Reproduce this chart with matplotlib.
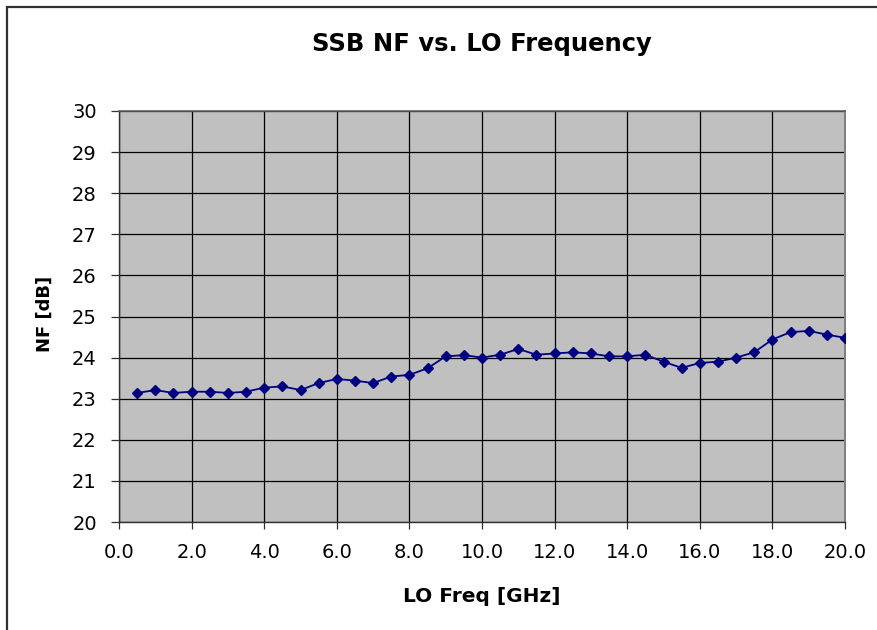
import matplotlib
matplotlib.use("Agg")
import matplotlib.pyplot as plt
from matplotlib.patches import Rectangle

freq_ghz = [0.5, 1.0, 1.5, 2.0, 2.5, 3.0, 3.5, 4.0, 4.5, 5.0,
            5.5, 6.0, 6.5, 7.0, 7.5, 8.0, 8.5, 9.0, 9.5, 10.0,
            10.5, 11.0, 11.5, 12.0, 12.5, 13.0, 13.5, 14.0, 14.5, 15.0,
            15.5, 16.0, 16.5, 17.0, 17.5, 18.0, 18.5, 19.0, 19.5, 20.0]
nf_db = [23.14, 23.21, 23.14, 23.17, 23.17, 23.14, 23.17, 23.27, 23.30, 23.21,
         23.38, 23.48, 23.44, 23.38, 23.54, 23.58, 23.74, 24.03, 24.06, 24.00,
         24.07, 24.21, 24.07, 24.10, 24.13, 24.10, 24.03, 24.03, 24.07, 23.90,
         23.75, 23.87, 23.90, 24.00, 24.13, 24.44, 24.62, 24.65, 24.56, 24.48]

x_ticks = [0, 2, 4, 6, 8, 10, 12, 14, 16, 18, 20]
y_ticks = [20, 21, 22, 23, 24, 25, 26, 27, 28, 29, 30]

title = "SSB NF vs. LO Frequency"
xlabel = "LO Freq [GHz]"
ylabel = "NF [dB]"

plt.rcParams['font.family'] = ['DejaVu Sans']

W, H = 877, 630
fig = plt.figure(figsize=(W / 100, H / 100), dpi=100)
fig.patch.set_facecolor('white')

# outer chart border (top and left visible)
fig.patches.append(Rectangle((7 / W, -0.05), 1.2, 1 - 7 / H + 0.05,
                             transform=fig.transFigure, fill=False,
                             edgecolor='#303030', linewidth=1.6))

left, right, top, bottom = 119, 845, 111, 522
ax = fig.add_axes([left / W, 1 - bottom / H, (right - left) / W, (bottom - top) / H])
ax.set_facecolor('#C0C0C0')

ax.plot(freq_ghz, nf_db, color='#000080', linewidth=1.3, marker='D',
        markersize=5.5, markerfacecolor='#000080', markeredgecolor='#000080',
        zorder=3)

ax.set_xlim(0, 20)
ax.set_ylim(20, 30)
ax.set_xticks(x_ticks)
ax.set_xticklabels([f"{v:.1f}" for v in x_ticks])
ax.set_yticks(y_ticks)
ax.set_yticklabels([str(v) for v in y_ticks])
ax.grid(True, color='black', linewidth=0.9, zorder=1)
ax.set_axisbelow(True)

ax.tick_params(axis='x', direction='out', length=5, width=0.9, color='#303030',
               labelsize=14, pad=10)
ax.tick_params(axis='y', direction='out', length=6, width=0.9, color='#303030',
               labelsize=14, pad=10)

for s in ['left', 'bottom']:
    ax.spines[s].set_color('#303030')
    ax.spines[s].set_linewidth(1.0)
ax.spines['top'].set_color('#606060')
ax.spines['top'].set_linewidth(1.2)
ax.spines['right'].set_color('#808080')
ax.spines['right'].set_linewidth(1.5)

fig.text((left + right) / 2 / W, 1 - 44 / H, title, ha='center', va='center',
         fontsize=17.5, fontweight='bold')
fig.text((left + right) / 2 / W, 1 - 597 / H, xlabel, ha='center', va='center',
         fontsize=14.5, fontweight='bold')
fig.text(45 / W, 1 - 314 / H, ylabel, ha='center', va='center', rotation=90,
         fontsize=13, fontweight='bold')

fig.savefig('out.png', dpi=100)
